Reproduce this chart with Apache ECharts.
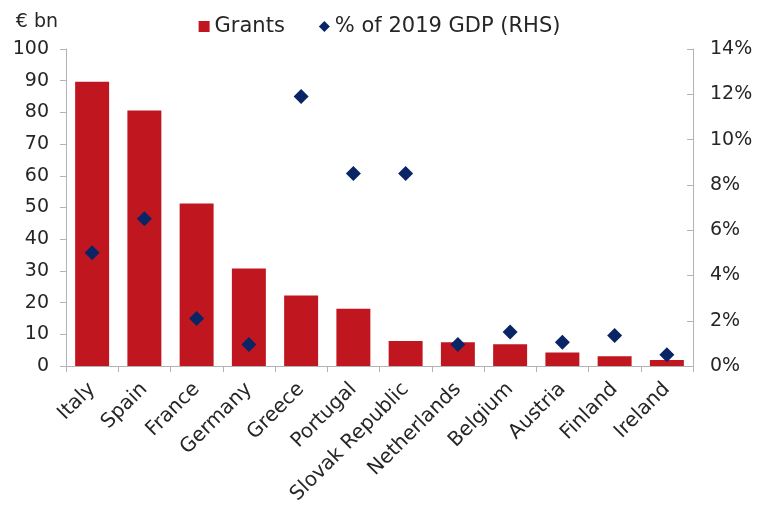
<!DOCTYPE html>
<html>
<head>
<meta charset="utf-8">
<script src="https://cdn.jsdelivr.net/npm/echarts@6/dist/echarts.min.js"></script>
<style>
  html, body { margin: 0; padding: 0; background: #fff; }
  #chart { width: 759px; height: 507px; }
</style>
</head>
<body>
<div id="chart"></div>
<script>
var countries = ['Italy', 'Spain', 'France', 'Germany', 'Greece', 'Portugal',
  'Slovak Republic', 'Netherlands', 'Belgium', 'Austria', 'Finland', 'Ireland'];
var grants = [89.7, 80.6, 51.3, 30.8, 22.3, 18.1, 7.9, 7.5, 6.9, 4.3, 3.1, 1.9];
var gdpShare = [5.0, 6.5, 2.1, 0.95, 11.9, 8.5, 8.5, 0.95, 1.5, 1.05, 1.35, 0.5];

// the source is a bit stretched sideways, DejaVu's wider glyphs get close
var font = 'DejaVu Sans, Liberation Sans, sans-serif';
var axisGrey = '#b3b3b3';
var textCol = '#262626';

var chart = echarts.init(document.getElementById('chart'));

chart.setOption({
  animation: false,
  textStyle: { fontFamily: font },
  legend: {
    top: 11,
    left: 'center',
    itemGap: 34,
    itemWidth: 11,
    itemHeight: 11,
    textStyle: { fontSize: 21, color: textCol, fontFamily: font },
    data: [
      { name: 'Grants', icon: 'rect' },
      { name: '% of 2019 GDP (RHS)', icon: 'diamond' }
    ]
  },
  grid: { left: 66, right: 66, top: 49, bottom: 140 },
  xAxis: {
    type: 'category',
    data: countries,
    axisLine: { lineStyle: { color: axisGrey } },
    axisTick: { show: true, length: 6, lineStyle: { color: axisGrey } },
    axisLabel: { rotate: 45, fontSize: 20, color: textCol, margin: 20, interval: 0 }
  },
  yAxis: [
    {
      type: 'value',
      min: 0, max: 100, interval: 10,
      name: '€ bn',
      nameLocation: 'end',
      nameGap: 17,
      nameTextStyle: { fontSize: 19, color: textCol, align: 'right', padding: [0, 8, 0, 0] },
      axisLine: { show: true, lineStyle: { color: axisGrey } },
      axisTick: { show: true, length: 6, lineStyle: { color: axisGrey } },
      splitLine: { show: false },
      axisLabel: { fontSize: 19, color: textCol, margin: 17 }
    },
    {
      type: 'value',
      min: 0, max: 14, interval: 2,
      position: 'right',
      axisLine: { show: true, lineStyle: { color: axisGrey } },
      axisTick: { show: true, inside: true, length: 6, lineStyle: { color: axisGrey } },
      splitLine: { show: false },
      axisLabel: { fontSize: 19, color: textCol, margin: 17, formatter: '{value}%' }
    }
  ],
  series: [
    {
      name: 'Grants',
      type: 'bar',
      data: grants,
      barCategoryGap: '35%',
      itemStyle: { color: '#c0161f' }
    },
    {
      name: '% of 2019 GDP (RHS)',
      type: 'scatter',
      yAxisIndex: 1,
      data: gdpShare,
      symbol: 'diamond',
      symbolSize: [15, 15],
      itemStyle: { color: '#0a2565', opacity: 1 }
    }
  ]
});
</script>
</body>
</html>
